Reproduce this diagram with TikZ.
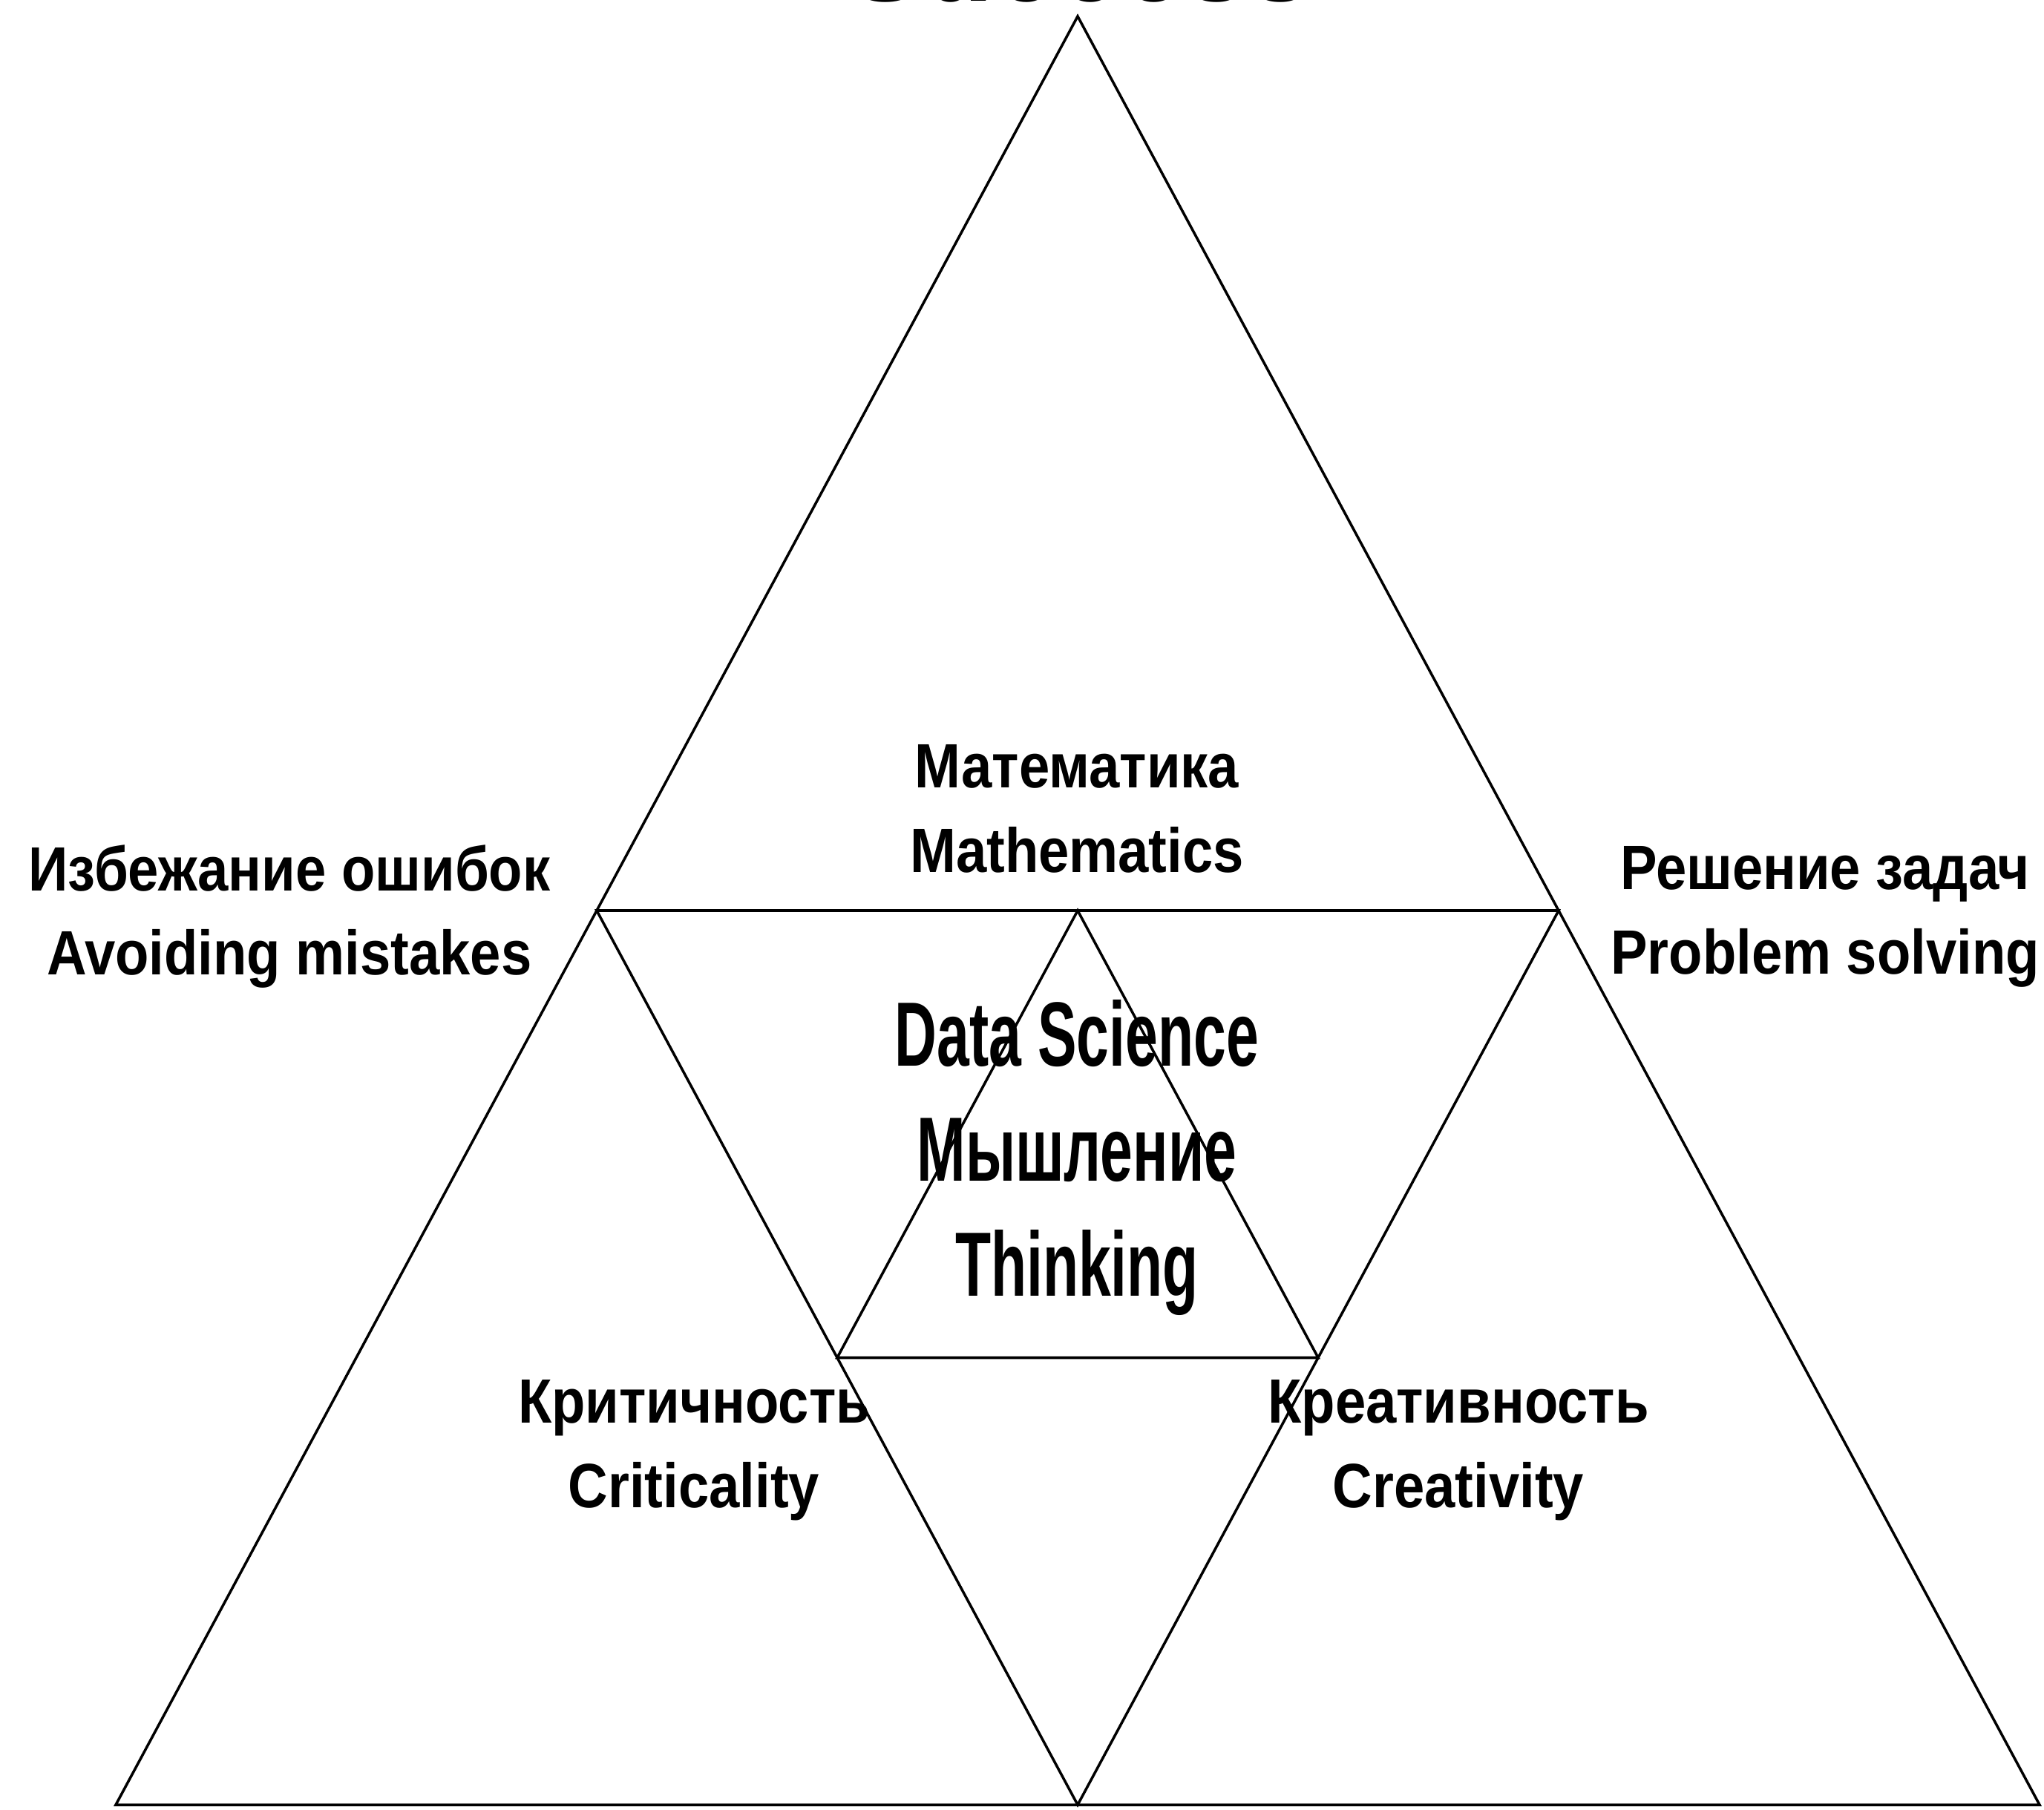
\documentclass[tikz,border=0pt]{standalone}
\usepackage{fontspec}
\setmainfont{Liberation Sans}
\newfontfamily\labelfont[FakeStretch=0.88]{Liberation Sans}
\newfontfamily\corefont[FakeStretch=0.64]{Liberation Sans}

\begin{document}
\begin{tikzpicture}[
  edge/.style={line width=1pt},
  lbl/.style={font=\labelfont\bfseries\fontsize{24}{32.4}\selectfont, align=center, inner sep=0pt},
  core/.style={font=\corefont\bfseries\fontsize{35}{44}\selectfont, align=center, inner sep=0pt}
]
  \useasboundingbox (0,0) rectangle (27.54,24.38);

  \coordinate (top) at (14.52,24.16);
  \coordinate (bl) at (1.56,0.06);
  \coordinate (br) at (27.48,0.06);
  \coordinate (ml) at (8.04,12.11);
  \coordinate (mr) at (21.00,12.11);
  \coordinate (mb) at (14.52,0.06);
  \coordinate (mm) at (14.52,12.11);
  \coordinate (sl) at (11.28,6.085);
  \coordinate (sr) at (17.76,6.085);

  \draw[edge] (top) -- (bl) -- (br) -- cycle;
  \draw[edge] (ml) -- (mr) -- (mb) -- cycle;
  \draw[edge] (mm) -- (sl) -- (sr) -- cycle;

  \node[font=\labelfont\bfseries\fontsize{50}{60}\selectfont, anchor=base, inner sep=0pt] (success) at (14.55,24.365) {Success};
  \node[lbl] (avoid) at (3.90,12.03) {Избежание ошибок\\Avoiding mistakes};
  \node[lbl] (solve) at (24.59,12.03) {Решение задач\\Problem solving};
  \node[lbl] (math) at (14.51,13.48) {Математика\\Mathematics};
  \node[lbl] (crit) at (9.35,4.84) {Критичность\\Criticality};
  \node[lbl] (creat) at (19.65,4.84) {Креативность\\Creativity};
  \node[core] (think) at (14.51,8.78) {Data Science\\Мышление\\Thinking};
\end{tikzpicture}
\end{document}
